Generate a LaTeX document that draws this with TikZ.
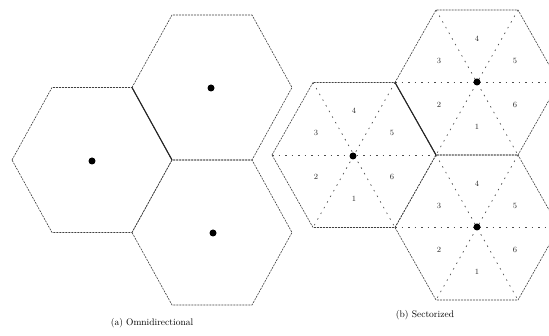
\documentclass[tikz,border=0pt]{standalone}
\begin{document}
\begin{tikzpicture}[x=1pt,y=-1pt,
    cell/.style={dash pattern=on 2pt off 1pt, line width=0.6pt, black!75},
    sector/.style={dash pattern=on 1.5pt off 5pt, line width=0.7pt, black!70},
    border/.style={line width=1.1pt, black!85},
    site/.style={circle, fill=black, inner sep=0pt, minimum size=7pt},
    secnum/.style={font=\fontsize{8}{9}\selectfont, text=black!85},
    caption/.style={font=\fontsize{9.5}{11}\selectfont}]

    \useasboundingbox (0,0) rectangle (549,336);
    \clip (0,0) rectangle (549,336);

    % (a) Omnidirectional cells
    \foreach \cx/\cy in {92/160, 212/87.5, 212/232.5}
        \draw[cell] (\cx-80,\cy) -- (\cx-40,\cy-72.5) -- (\cx+40,\cy-72.5)
            -- (\cx+80,\cy) -- (\cx+40,\cy+72.5) -- (\cx-40,\cy+72.5) -- cycle;
    \draw[border] (132,87.5) -- (172,160);

    % (b) Sectorized cells
    \foreach \cx/\cy in {354/155, 477/82.5, 477/227.5} {
        \draw[cell] (\cx-82,\cy) -- (\cx-41,\cy-72.5) -- (\cx+41,\cy-72.5)
            -- (\cx+82,\cy) -- (\cx+41,\cy+72.5) -- (\cx-41,\cy+72.5) -- cycle;
        \draw[sector] (\cx-82,\cy) -- (\cx+82,\cy);
        \draw[sector] (\cx-41,\cy-72.5) -- (\cx+41,\cy+72.5);
        \draw[sector] (\cx+41,\cy-72.5) -- (\cx-41,\cy+72.5);
    }
    \draw[border] (395,82.5) -- (436,155);

    % Sector numbers
    \foreach \cx/\cy [count=\c] in {354/155, 477/82.5, 477/227.5}
        \foreach \k in {1,...,6}
            \path (\cx,\cy) ++({30+60*\k}:44) node[secnum] (n\c\k) {\k};

    % Base stations
    \foreach \cx/\cy [count=\i] in {92/161, 211/88, 213/233}
        \node[site] (sa\i) at (\cx,\cy) {};
    \foreach \cx/\cy [count=\i] in {353/156, 477/82, 477/227}
        \node[site] (sb\i) at (\cx,\cy) {};

    % Captions
    \node[caption] (capa) at (152,323) {(a) Omnidirectional};
    \node[caption] (capb) at (425,315) {(b) Sectorized};

\end{tikzpicture}
\end{document}
